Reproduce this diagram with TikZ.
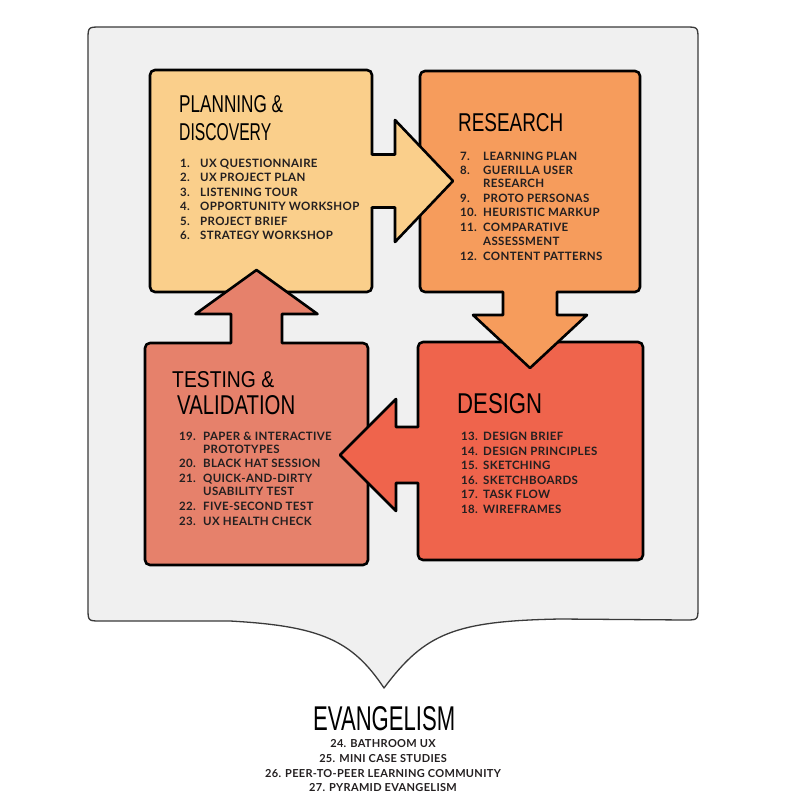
\documentclass[tikz,border=0pt]{standalone}
\usepackage{fontspec}
\usepackage{graphicx}
\usetikzlibrary{calc}
\newfontfamily\listfont[LetterSpace=3]{Lato}
\newfontfamily\handfont{Liberation Sans}
\definecolor{plancol}{HTML}{FACF8B}
\definecolor{rescol}{HTML}{F69C5C}
\definecolor{descol}{HTML}{EF644C}
\definecolor{testcol}{HTML}{E6816B}
\definecolor{bubblecol}{HTML}{F0F0F0}
\definecolor{bubbleline}{HTML}{3A3A3A}
\definecolor{ink}{HTML}{231F20}
\newcommand{\handtitle}[3]{\resizebox{#1pt}{#2pt}{\handfont #3}}
\tikzset{
  stagebox/.style={draw=black, line width=2.6pt, rounded corners=5pt, inner sep=0pt, outer sep=0pt, line join=round},
  arrowline/.style={draw=black, line width=2.6pt, line join=round, line cap=round},
  titletext/.style={anchor=base west, inner sep=0pt, text=black},
  listtext/.style={anchor=base west, inner sep=0pt, text=ink, font=\listfont\bfseries\fontsize{11.5}{14.5}\selectfont},
  evtext/.style={anchor=base, inner sep=0pt, text=ink, font=\listfont\bfseries\fontsize{11}{14.5}\selectfont},
}
\begin{document}
\begin{tikzpicture}[x=1pt,y=-1pt]
\useasboundingbox[fill=white] (0,0) rectangle (791,802);

% speech bubble
\draw[fill=bubblecol, draw=bubbleline, line width=1.3pt, line join=round]
  (230,621) -- (101,621) .. controls (88,621) .. (88,608) -- (88,40)
  .. controls (88,27) .. (101,27) -- (685,27) .. controls (698,27) .. (698,40)
  -- (698,607) .. controls (698,620) .. (685,620) -- (560,619)
  .. controls (455,621) and (425,633) .. (384,688)
  .. controls (352,640) and (320,626) .. (230,621) -- cycle;

% stage boxes
\node[stagebox, fill=plancol, minimum width=222pt, minimum height=222pt] (plan) at (261,181) {};
\node[stagebox, fill=rescol, minimum width=220pt, minimum height=221pt] (research) at (530,181.5) {};
\node[stagebox, fill=descol, minimum width=225pt, minimum height=218pt] (design) at (530.5,451) {};
\node[stagebox, fill=testcol, minimum width=223pt, minimum height=222pt] (testing) at (256.5,454) {};

% block arrows
\begin{scope}[shift={(plan.east)}]
  \fill[plancol] (-5,-26.5) -- (23,-26.5) -- (23,-61) -- (81,0) -- (23,61) -- (23,26.5) -- (-5,26.5) -- cycle;
  \draw[arrowline] (0,-26.5) -- (23,-26.5) -- (23,-61) -- (81,0) -- (23,61) -- (23,26.5) -- (0,26.5);
\end{scope}
\begin{scope}[shift={(research.south)}, rotate=-90]
  \fill[rescol] (-5,-27) -- (23,-27) -- (23,-57) -- (76,0) -- (23,57) -- (23,27) -- (-5,27) -- cycle;
  \draw[arrowline] (0,-27) -- (23,-27) -- (23,-57) -- (76,0) -- (23,57) -- (23,27) -- (0,27);
\end{scope}
\begin{scope}[shift={($(design.west)+(0,4)$)}, rotate=180]
  \fill[descol] (-5,-28) -- (22,-28) -- (22,-56) -- (78,0) -- (22,56) -- (22,28) -- (-5,28) -- cycle;
  \draw[arrowline] (0,-28) -- (22,-28) -- (22,-56) -- (78,0) -- (22,56) -- (22,28) -- (0,28);
\end{scope}
\begin{scope}[shift={(testing.north)}, rotate=90]
  \fill[testcol] (-5,-25.5) -- (29,-25.5) -- (29,-61) -- (73,0) -- (29,61) -- (29,25.5) -- (-5,25.5) -- cycle;
  \draw[arrowline] (0,-25.5) -- (29,-25.5) -- (29,-61) -- (73,0) -- (29,61) -- (29,25.5) -- (0,25.5);
\end{scope}

% titles
\node[titletext] (tplanA) at (179,113) {\handtitle{104}{17}{PLANNING \&}};
\node[titletext] (tplanB) at (179,141) {\handtitle{92}{17}{DISCOVERY}};
\node[titletext] (tres) at (458,131.7) {\handtitle{105}{18}{RESEARCH}};
\node[titletext] (tdes) at (457,413) {\handtitle{85}{20}{DESIGN}};
\node[titletext] (ttestA) at (172,387) {\handtitle{102}{16}{TESTING \&}};
\node[titletext] (ttestB) at (177,414) {\handtitle{118}{19}{VALIDATION}};
\node[titletext] (tev) at (313,730) {\handtitle{142}{24}{EVANGELISM}};

% lists
\foreach \i/\num/\txt/\yy in {1/1./UX QUESTIONNAIRE/167.3, 2/2./UX PROJECT PLAN/181.8, 3/3./LISTENING TOUR/196.4, 4/4./OPPORTUNITY WORKSHOP/210.9, 5/5./PROJECT BRIEF/225.5, 6/6./STRATEGY WORKSHOP/240.0}
  \node[listtext] (pl\i) at (180,\yy) {\makebox[20pt][l]{\num}\txt};
\foreach \i/\num/\txt/\yy in {1/7./LEARNING PLAN/160.7, 2/8./GUERILLA USER/175.0, 3//RESEARCH/187.7, 4/9./PROTO PERSONAS/202.7, 5/10./HEURISTIC MARKUP/217.0, 6/11./COMPARATIVE/231.7, 7//ASSESSMENT/245.0, 8/12./CONTENT PATTERNS/260.0}
  \node[listtext] (rs\i) at (460,\yy) {\makebox[23pt][l]{\num}\txt};
\foreach \i/\num/\txt/\yy in {1/13./DESIGN BRIEF/440.7, 2/14./DESIGN PRINCIPLES/455.2, 3/15./SKETCHING/469.7, 4/16./SKETCHBOARDS/484.2, 5/17./TASK FLOW/498.7, 6/18./WIREFRAMES/513.3}
  \node[listtext] (ds\i) at (461,\yy) {\makebox[22pt][l]{\num}\txt};
\foreach \i/\num/\txt/\yy in {1/19./PAPER \& INTERACTIVE/440.7, 2//PROTOTYPES/453.3, 3/20./BLACK HAT SESSION/467.7, 4/21./QUICK-AND-DIRTY/482.3, 5//USABILITY TEST/495.0, 6/22./FIVE-SECOND TEST/510.0, 7/23./UX HEALTH CHECK/525.0}
  \node[listtext] (ts\i) at (179,\yy) {\makebox[24pt][l]{\num}\txt};
\foreach \i/\txt/\yy in {1/24. BATHROOM UX/747.7, 2/25. MINI CASE STUDIES/762.3, 3/26. PEER-TO-PEER LEARNING COMMUNITY/777.0, 4/27. PYRAMID EVANGELISM/791.7}
  \node[evtext] (ev\i) at (383,\yy) {\txt};
\end{tikzpicture}
\end{document}
